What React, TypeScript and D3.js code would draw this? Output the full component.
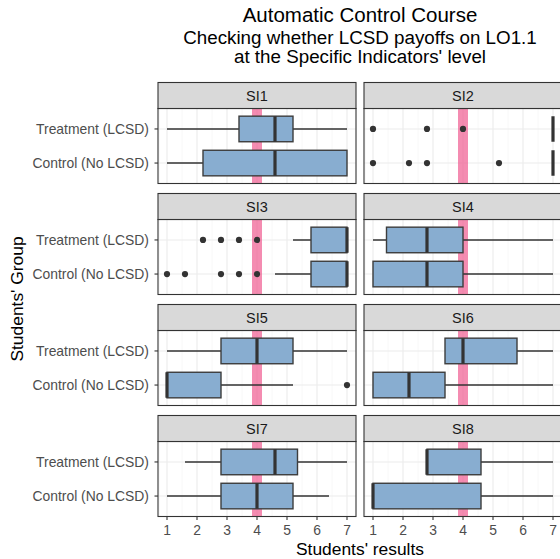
import React from 'react';
import * as d3 from 'd3';

// Specific indicators (facets) and the two student groups
const indicators = ['SI1', 'SI2', 'SI3', 'SI4', 'SI5', 'SI6', 'SI7', 'SI8'];
const groups = ['Treatment (LCSD)', 'Control (No LCSD)'];
const xTicks = [1, 2, 3, 4, 5, 6, 7];
const threshold = 4;

// box stats: [lower whisker, q1, median, q3, upper whisker]
const treatmentStats = [
  [1, 3.4, 4.6, 5.2, 7],
  [7, 7, 7, 7, 7],
  [5.2, 5.8, 7, 7, 7],
  [1, 1.45, 2.8, 4, 7],
  [1, 2.8, 4, 5.2, 7],
  [3.4, 3.4, 4, 5.8, 7],
  [1.6, 2.8, 4.6, 5.35, 7],
  [2.8, 2.8, 2.8, 4.6, 7],
];
const controlStats = [
  [1, 2.2, 4.6, 7, 7],
  [7, 7, 7, 7, 7],
  [4.6, 5.8, 7, 7, 7],
  [1, 1, 2.8, 4, 7],
  [1, 1, 1, 2.8, 5.2],
  [1, 1, 2.2, 3.4, 7],
  [1, 2.8, 4, 5.2, 6.4],
  [1, 1, 1, 4.6, 7],
];
const treatmentOutliers = [[], [1, 2.8, 4], [2.2, 2.8, 3.4, 4], [], [], [], [], []];
const controlOutliers = [[], [1, 2.2, 2.8, 5.2], [1, 1.6, 2.8, 3.4, 4], [], [7], [], [], []];

const font = '"Liberation Sans", Arial, Helvetica, sans-serif';
const colLeft = [158, 364];
const panelW = 198;
const rowTop0 = 82.5;
const rowStep = 111;
const stripH = 26;
const panelH = 75;

const Panel = ({ i }: { i: number }) => {
  const col = i % 2;
  const row = Math.floor(i / 2);
  const x0 = colLeft[col];
  const top = rowTop0 + row * rowStep;
  const pTop = top + stripH;
  const x = d3.scaleLinear().domain([0.7, 7.3]).range([x0, x0 + panelW]);
  const y = d3.scalePoint().domain(groups).range([pTop + panelH * (0.6 / 2.2), pTop + panelH * (1.6 / 2.2)]);
  const unit = panelH / 2.2;
  const half = (0.75 * unit) / 2;
  const minor = d3.range(1.5, 7, 1).concat([0.75]);
  const stats = [treatmentStats[i], controlStats[i]];
  const outs = [treatmentOutliers[i], controlOutliers[i]];
  const clipId = `clip${i}`;
  return (
    <g>
      <defs>
        <clipPath id={clipId}>
          <rect x={x0} y={pTop} width={panelW} height={panelH} />
        </clipPath>
      </defs>
      <rect x={x0} y={pTop} width={panelW} height={panelH} fill="#fff" />
      <g clipPath={`url(#${clipId})`}>
        {minor.map((v) => (
          <line key={'m' + v} x1={x(v)} x2={x(v)} y1={pTop} y2={pTop + panelH} stroke="#f2f2f2" strokeWidth={0.55} />
        ))}
        {xTicks.map((v) => (
          <line key={'M' + v} x1={x(v)} x2={x(v)} y1={pTop} y2={pTop + panelH} stroke="#ebebeb" strokeWidth={1.1} />
        ))}
        {groups.map((g) => (
          <line key={g} x1={x0} x2={x0 + panelW} y1={y(g)} y2={y(g)} stroke="#ebebeb" strokeWidth={1.1} />
        ))}
        <rect x={x(threshold) - 5} y={pTop} width={10} height={panelH} fill="#ef5b90" fillOpacity={0.7} />
        {groups.map((g, k) => {
          const [lw, q1, md, q3, uw] = stats[k];
          const cy = y(g)!;
          return (
            <g key={g}>
              <line x1={x(lw)} x2={x(q1)} y1={cy} y2={cy} stroke="#333" strokeWidth={1.6} />
              <line x1={x(q3)} x2={x(uw)} y1={cy} y2={cy} stroke="#333" strokeWidth={1.6} />
              <rect x={x(q1)} y={cy - half} width={x(q3) - x(q1)} height={2 * half} fill="#88add0" stroke="#3d3d3d" strokeWidth={1.4} />
              <line x1={x(md)} x2={x(md)} y1={cy - half} y2={cy + half} stroke="#333" strokeWidth={3.2} />
              {outs[k].map((o, j) => (
                <circle key={j} cx={x(o)} cy={cy} r={3.1} fill="#333" />
              ))}
            </g>
          );
        })}
      </g>
      <rect x={x0} y={pTop} width={panelW} height={panelH} fill="none" stroke="#333" strokeWidth={1.1} />
      <rect x={x0} y={top} width={panelW} height={stripH} fill="#d9d9d9" stroke="#333" strokeWidth={1.1} />
      <text x={x0 + panelW / 2} y={top + stripH / 2 + 5} textAnchor="middle" fontSize={14.5} fill="#1a1a1a">
        {indicators[i]}
      </text>
      {col === 0 &&
        groups.map((g) => (
          <g key={g}>
            <line x1={x0 - 3.5} x2={x0} y1={y(g)} y2={y(g)} stroke="#333" strokeWidth={1.1} />
            <text x={x0 - 9} y={y(g)! + 5} textAnchor="end" fontSize={13.9} fill="#4d4d4d">
              {g}
            </text>
          </g>
        ))}
      {row === 3 &&
        xTicks.map((v) => (
          <g key={v}>
            <line x1={x(v)} x2={x(v)} y1={pTop + panelH} y2={pTop + panelH + 3.5} stroke="#333" strokeWidth={1.1} />
            <text x={x(v)} y={pTop + panelH + 18.5} textAnchor="middle" fontSize={13.9} fill="#4d4d4d">
              {v}
            </text>
          </g>
        ))}
    </g>
  );
};

const App = () => {
  const width = 560;
  const height = 559;
  return (
    <svg width={width} height={height} style={{ position: 'absolute', left: 0, top: 0 }} fontFamily={font}>
      <rect width={width} height={height} fill="#fff" />
      <text x={360} y={22} textAnchor="middle" fontSize={20.5} fill="#000">
        Automatic Control Course
      </text>
      <text x={360} y={43.5} textAnchor="middle" fontSize={18.8} fill="#000">
        Checking whether LCSD payoffs on LO1.1
      </text>
      <text x={360} y={62.5} textAnchor="middle" fontSize={18.8} fill="#000">
        at the Specific Indicators' level
      </text>
      {indicators.map((_, i) => (
        <Panel key={i} i={i} />
      ))}
      <text x={360} y={555} textAnchor="middle" fontSize={17.4} fill="#000">
        Students' results
      </text>
      <text transform="translate(23,299) rotate(-90)" textAnchor="middle" fontSize={17.4} fill="#000">
        Students' Group
      </text>
    </svg>
  );
};

export default App;
